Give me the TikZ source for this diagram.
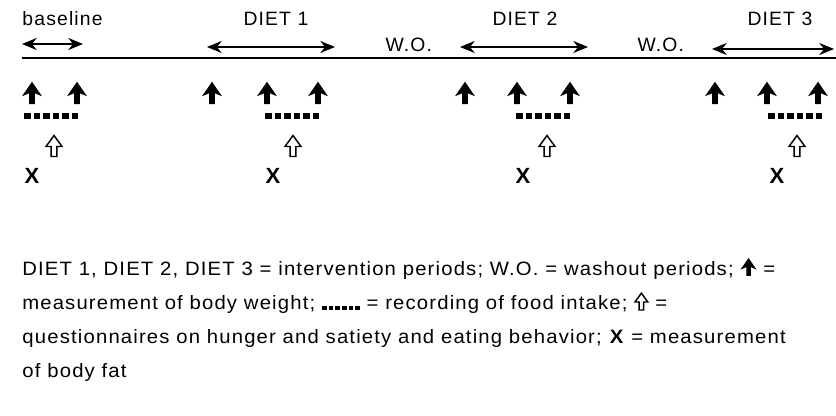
\documentclass[tikz,border=0pt]{standalone}
\usepackage{fontspec}
\setmainfont{Liberation Sans}
\newfontfamily\diagfont[LetterSpace=6]{Liberation Sans}
\newfontfamily\legendfont[LetterSpace=6,FakeStretch=1.05]{Liberation Sans}
\usetikzlibrary{arrows.meta}

\tikzset{every picture/.style={line width=0.75pt}}
\tikzset{
  period/.style={line width=1.4pt,{Stealth[length=11pt,width=9pt,inset=3.5pt]}-{Stealth[length=11pt,width=9pt,inset=3.5pt]}},
  lbl/.style={anchor=base west,inner sep=0pt,font=\fontsize{14.5}{17}\diagfont},
  symb/.style={inner sep=0pt,font=\fontsize{16.5}{19}\diagfont\bfseries},
  legend/.style={anchor=base west,inner sep=0pt,font=\fontsize{14.5}{17}\legendfont}
}

% body weight, food record, questionnaire
\newcommand{\wtarrow}[1][1]{\tikz[baseline=0pt,x=0.75pt,y=0.75pt,scale=#1]\fill (-2.8,0) -- (2.8,0) -- (2.8,11) -- (10,8) -- (0,22.5) -- (-10,8) -- (-2.8,11) -- cycle;}
\newcommand{\fdots}[1][1]{\tikz[baseline=0pt,x=0.75pt,y=0.75pt,scale=#1]\foreach \i in {0,...,5} \fill (\i*9.5,0) rectangle ++(6.5,5.5);}
\newcommand{\qarrow}[1][1]{\tikz[baseline=0pt,x=0.75pt,y=0.75pt,scale=#1]\draw[line width=1.1pt] (-2.8,0) -- (2.8,0) -- (2.8,10) -- (8,10) -- (0,21) -- (-8,10) -- (-2.8,10) -- cycle;}

\begin{document}
\begin{tikzpicture}[x=0.75pt,y=0.75pt,yscale=-1,xscale=1]
\useasboundingbox (0,0) rectangle (836,416);

%Straight Lines
\coordinate (axisL) at (22,58);
\coordinate (axisR) at (836,58);
\draw [line width=2.2pt] (axisL) -- (axisR) ;
%Double arrows
\coordinate (bas0) at (22,44);
\coordinate (bas1) at (83,44);
\draw [period] (bas0) -- (bas1) ;
\coordinate (dietA0) at (207,47);
\coordinate (dietA1) at (335,47);
\draw [period] (dietA0) -- (dietA1) ;
\coordinate (dietB0) at (460,47);
\coordinate (dietB1) at (588,47);
\draw [period] (dietB0) -- (dietB1) ;
\coordinate (dietC0) at (712,49);
\coordinate (dietC1) at (834,49);
\draw [period] (dietC0) -- (dietC1) ;

% Text Node
\node [lbl] (lblBas) at (22,26) {baseline};
% Text Node
\node [lbl] (lblDietA) at (243,26) {DIET 1};
% Text Node
\node [lbl] (lblDietB) at (492,26) {DIET 2};
% Text Node
\node [lbl] (lblDietC) at (747,26) {DIET 3};
% Text Node
\node [lbl] (lblWoA) at (385,52) {W.O.};
% Text Node
\node [lbl] (lblWoB) at (637,52) {W.O.};

%Body weight
\node [symb] (wtBas1) at (32,93) {\wtarrow};
\node [symb] (wtBas2) at (77,93) {\wtarrow};
\node [symb] (wtA1) at (212,93) {\wtarrow};
\node [symb] (wtA2) at (267,93) {\wtarrow};
\node [symb] (wtA3) at (318,93) {\wtarrow};
\node [symb] (wtB1) at (465,93) {\wtarrow};
\node [symb] (wtB2) at (517,93) {\wtarrow};
\node [symb] (wtB3) at (570,93) {\wtarrow};
\node [symb] (wtC1) at (715,93) {\wtarrow};
\node [symb] (wtC2) at (767,93) {\wtarrow};
\node [symb] (wtC3) at (818,93) {\wtarrow};

%Food intake
\node [symb] (foodBas) at (51,116) {\fdots};
\node [symb] (foodA) at (292,116) {\fdots};
\node [symb] (foodB) at (543,116) {\fdots};
\node [symb] (foodC) at (795,116) {\fdots};

%Questionnaires
\node [symb] (qBas) at (54,146) {\qarrow};
\node [symb] (qA) at (293,146) {\qarrow};
\node [symb] (qB) at (547,146) {\qarrow};
\node [symb] (qC) at (797,146) {\qarrow};

%Body fat
\node [symb] (fatBas) at (32,176) {X};
\node [symb] (fatA) at (273,176) {X};
\node [symb] (fatB) at (523,176) {X};
\node [symb] (fatC) at (777,176) {X};

% Text Node
\node [legend] (legA) at (22,276) {DIET 1, DIET 2, DIET 3 = intervention periods; W.O. = washout periods; \wtarrow[0.8] =};
% Text Node
\node [legend] (legB) at (22,310) {measurement of body weight; \fdots[0.7] = recording of food intake; \qarrow[0.8] =};
% Text Node
\node [legend] (legC) at (22,344) {questionnaires on hunger and satiety and eating behavior; \textbf{X} = measurement};
% Text Node
\node [legend] (legD) at (22,378) {of body fat};

\end{tikzpicture}
\end{document}
